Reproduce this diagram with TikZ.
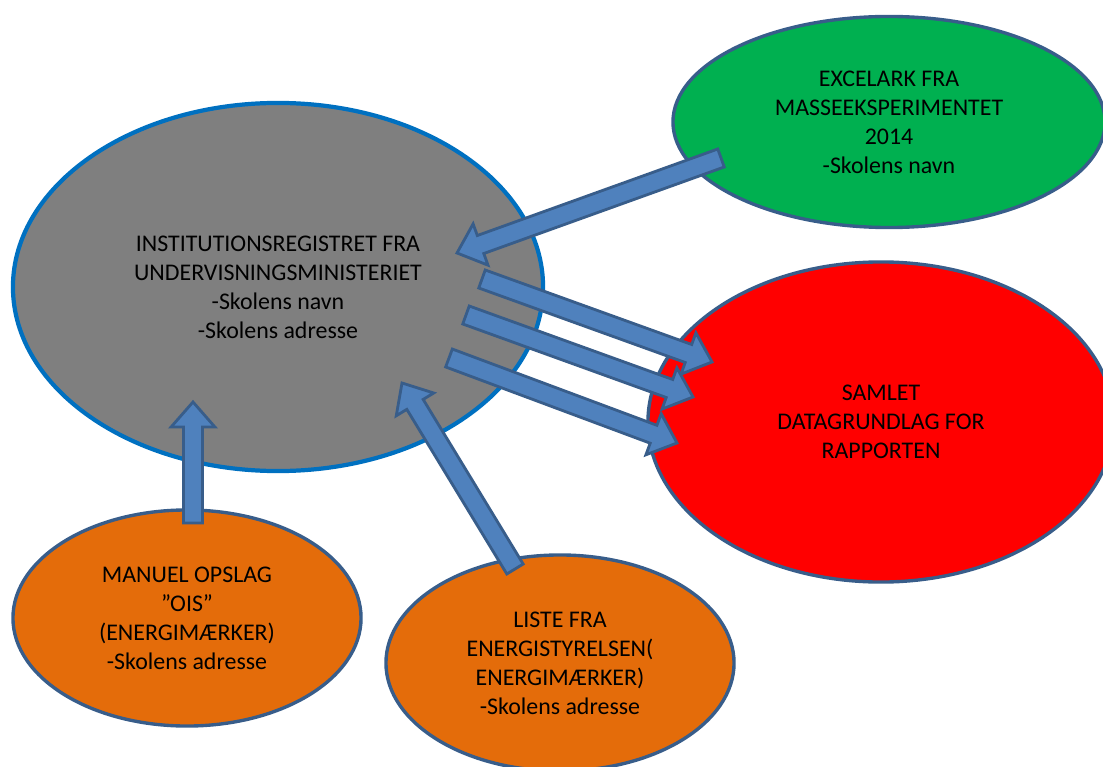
\documentclass[tikz,border=0pt]{standalone}
\usepackage{fontspec}
\setmainfont{Carlito}
\usetikzlibrary{shapes.geometric,calc}

\definecolor{greyfill}{RGB}{127,127,127}
\definecolor{greyline}{RGB}{0,112,192}
\definecolor{greenfill}{RGB}{0,176,80}
\definecolor{orangefill}{RGB}{228,108,10}
\definecolor{darkline}{RGB}{56,93,138}
\definecolor{arrowfill}{RGB}{79,129,189}

\tikzset{
  blob/.style={ellipse, draw=darkline, line width=2.4pt, inner sep=0pt, align=center,
    font=\fontsize{17}{20.6}\selectfont},
  blockarr/.style={draw=darkline, fill=arrowfill, line width=2pt, line join=miter},
}

% block arrow from #1 to #2
\newcommand{\blockarrow}[2]{%
  \path ($(#2)!17.8pt!(#1)$) coordinate (neck);
  \draw[blockarr] ($(#1)!6.8pt!90:(#2)$) -- ($(neck)!6.8pt!90:(#2)$)
    -- ($(neck)!15.6pt!90:(#2)$) -- (#2) -- ($(neck)!15.6pt!-90:(#2)$)
    -- ($(neck)!6.8pt!-90:(#2)$) -- ($(#1)!6.8pt!-90:(#2)$) -- cycle;
}

\begin{document}
\begin{tikzpicture}[x=0.025cm, y=-0.025cm]
      \clip (0,0) rectangle (1103,767);

      \node[blob, fill=greyfill, draw=greyline, line width=3pt, minimum width=13.25cm, minimum height=9.2cm]
        (register) at (278,287) {INSTITUTIONSREGISTRET FRA\\UNDERVISNINGSMINISTERIET\\-Skolens navn\\-Skolens adresse};
      \node[blob, fill=greenfill, minimum width=10.8cm, minimum height=5.275cm]
        (excel) at (889,122) {EXCELARK FRA\\MASSEEKSPERIMENTET\\2014\\-Skolens navn};
      \node[blob, fill=red, minimum width=11.65cm, minimum height=8cm]
        (samlet) at (881,422) {SAMLET\\DATAGRUNDLAG FOR\\RAPPORTEN};
      \node[blob, fill=orangefill, minimum width=8.7cm, minimum height=5.4cm]
        (manuel) at (187,618) {MANUEL OPSLAG\\”OIS”\\(ENERGIMÆRKER)\\-Skolens adresse};
      \node[blob, fill=orangefill, minimum width=8.7cm, minimum height=5.4cm]
        (liste) at (560,663) {LISTE FRA\\ENERGISTYRELSEN(\\ENERGIMÆRKER)\\-Skolens adresse};

      % arrow ends
      \coordinate (excel_out) at (721,158);
      \coordinate (excel_in) at (457,253);
      \coordinate (manuel_out) at (193,523);
      \coordinate (manuel_in) at (193,402);
      \coordinate (liste_out) at (515,569);
      \coordinate (liste_in) at (402,383);
      \coordinate (out_1) at (482,279);
      \coordinate (in_1) at (712,362);
      \coordinate (out_2) at (466,315);
      \coordinate (in_2) at (693,397);
      \coordinate (out_3) at (449,358);
      \coordinate (in_3) at (677,443);

      \blockarrow{excel_out}{excel_in}
      \blockarrow{manuel_out}{manuel_in}
      \blockarrow{liste_out}{liste_in}
      \foreach \n in {1,2,3} {
          \blockarrow{out_\n}{in_\n}
        }
    \end{tikzpicture}
\end{document}
